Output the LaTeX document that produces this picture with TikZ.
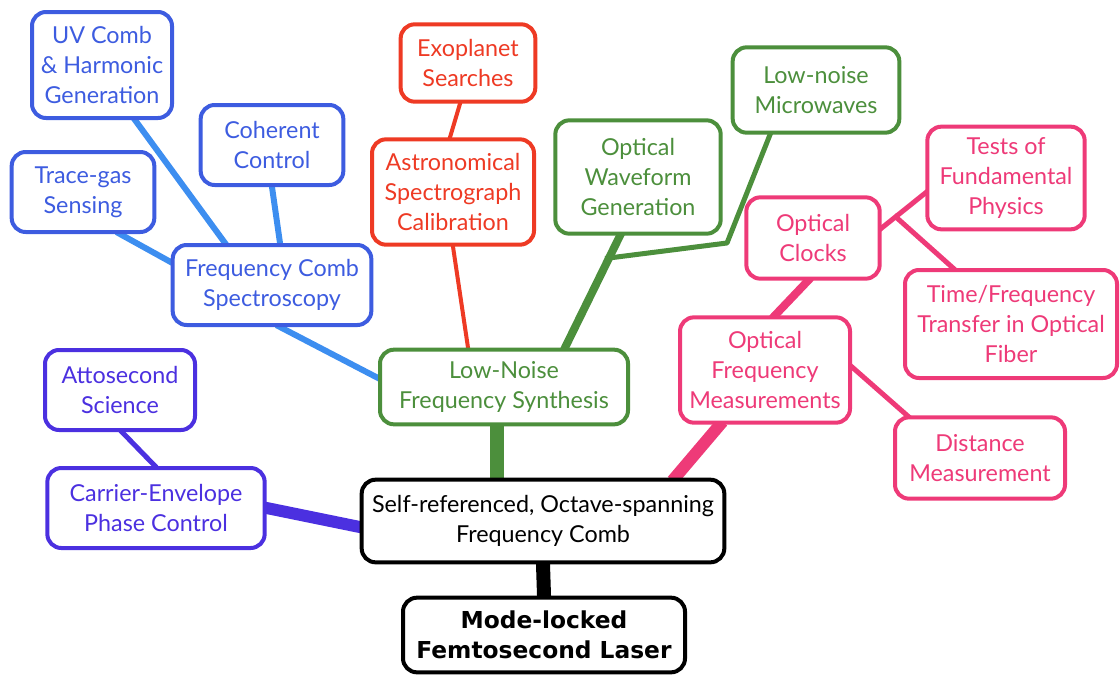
\documentclass[tikz,border=0pt]{standalone}
\usepackage{fontspec}
\setmainfont{Lato}
\newfontfamily\laserfamily{DejaVu Sans}
\usepackage{tikz}
\usetikzlibrary{
  calc,
  backgrounds
}
\definecolor{boxblue}{HTML}{3D5CE0}
\definecolor{lineblue}{HTML}{3D8EF0}
\definecolor{astrored}{HTML}{EE3A24}
\definecolor{synthgreen}{HTML}{4C8F3C}
\definecolor{optpink}{HTML}{EE3A78}
\definecolor{cepurple}{HTML}{4B30E0}
\newcommand{\topicfont}{\fontsize{17.5}{22.5}\selectfont}

\begin{document}
\begin{tikzpicture}[
  x=0.75pt, y=-0.75pt,
  topic/.style={draw=#1, text=#1, line width=3pt, rounded corners=10.5pt, fill=white,
    align=center, font=\topicfont, inner sep=0pt},
  link/.style={draw=#1, line width=4.5pt, shorten <=-3pt, shorten >=-3pt},
]
  \useasboundingbox (0,0) rectangle (1120,675);

  % Spectroscopy branch
  \node[topic=boxblue, minimum width=105pt, minimum height=79.5pt] (uvcomb) at (102,65) {UV Comb\\\& Harmonic\\Generation};
  \node[topic=boxblue, minimum width=107pt, minimum height=60pt] (coherent) at (272,145) {Coherent\\Control};
  \node[topic=boxblue, minimum width=107pt, minimum height=60pt] (tracegas) at (83,192) {Trace-gas\\Sensing};
  \node[topic=boxblue, minimum width=149pt, minimum height=60pt] (fcs) at (272,285) {Frequency Comb\\Spectroscopy};

  % Astronomy branch
  \node[topic=astrored, minimum width=101pt, minimum height=58pt] (exoplanet) at (468,63) {Exoplanet\\Searches};
  \node[topic=astrored, minimum width=121.5pt, minimum height=79pt] (astro) at (453,192) {Astronomical\\Spectrograph\\Calibration};

  % Synthesis branch
  \node[topic=synthgreen, minimum width=124pt, minimum height=85pt] (waveform) at (638,177) {Optical\\Waveform\\Generation};
  \node[topic=synthgreen, minimum width=125pt, minimum height=64pt] (microwave) at (816,90) {Low-noise\\Microwaves};
  \node[topic=synthgreen, minimum width=186pt, minimum height=56pt] (synth) at (504,387) {Low-Noise\\Frequency Synthesis};
  \coordinate (wjoin) at (609,258);
  \coordinate (mwbend) at (727,243);

  % Optical measurement branch
  \node[topic=optpink, minimum width=100pt, minimum height=61pt] (clocks) at (813,238) {Optical\\Clocks};
  \node[topic=optpink, minimum width=118pt, minimum height=77pt] (tests) at (1006,178) {Tests of\\Fundamental\\Physics};
  \node[topic=optpink, minimum width=159pt, minimum height=81pt] (transfer) at (1011,324) {Time/Frequency\\Transfer in Optical\\Fiber};
  \node[topic=optpink, minimum width=127.5pt, minimum height=79pt] (ofm) at (765,370) {Optical\\Frequency\\Measurements};
  \node[topic=optpink, minimum width=127.5pt, minimum height=61pt] (distance) at (980,458) {Distance\\Measurement};
  \coordinate (cjoin) at (897,218);

  % CEP branch
  \node[topic=cepurple, minimum width=112.5pt, minimum height=60pt] (atto) at (120,390) {Attosecond\\Science};
  \node[topic=cepurple, minimum width=163pt, minimum height=60pt] (cep) at (156,508) {Carrier-Envelope\\Phase Control};

  % Trunk
  \node[topic=black, minimum width=272pt, minimum height=62pt] (comb) at (543,521) {Self-referenced, Octave-spanning\\Frequency Comb};
  \node[topic=black, minimum width=211.5pt, minimum height=56pt,
    font=\laserfamily\bfseries\fontsize{17.5}{22.5}\selectfont] (laser) at (544,635) {Mode-locked\\Femtosecond Laser};

  \begin{scope}[on background layer]
    \draw[link=lineblue] ($(uvcomb.south)+(33,0)$) -- ($(fcs.north)+(-47,0)$);
    \draw[link=lineblue] (coherent.south) -- ($(fcs.north)+(8,0)$);
    \draw[link=lineblue] ($(tracegas.south)+(37,0)$) -- ($(fcs.west)+(0,-23)$);
    \draw[link=lineblue] ($(fcs.south)+(8,0)$) -- ($(synth.west)+(0,-9)$);

    \draw[link=astrored, line width=3pt] ($(exoplanet.south)+(-8,0)$) -- ($(astro.north)+(-3,0)$);
    \draw[link=astrored, line width=3pt] (astro.south) -- ($(synth.north)+(-36,0)$);

    \draw[link=synthgreen, line width=6pt] ($(waveform.south)+(-18,0)$) -- ($(synth.north)+(61,0)$);
    \draw[link=synthgreen, line width=3.75pt, line join=round] (wjoin) -- (mwbend) -- ($(microwave.south)+(-46,0)$);
    \draw[link=synthgreen, line width=10pt] ($(synth.south)+(-7,0)$) -- ($(comb.north)+(-46,0)$);

    \draw[link=optpink, line width=9pt] ($(comb.north)+(132,0)$) -- ($(ofm.south)+(-45,0)$);
    \draw[link=optpink, line width=6pt] ($(ofm.north)+(10,0)$) -- ($(clocks.south)+(-5,0)$);
    \draw[link=optpink, line width=3.75pt] ($(clocks.east)+(0,-10)$) -- ($(tests.west)+(0,15)$);
    \draw[link=optpink, line width=3.75pt] (cjoin) -- ($(transfer.north)+(-58,0)$);
    \draw[link=optpink, line width=3.75pt] ($(ofm.east)+(0,-3)$) -- ($(distance.north)+(-73,0)$);

    \draw[link=cepurple, line width=3.75pt] ($(atto.south)+(2,0)$) -- ($(cep.north)+(-1,0)$);
    \draw[link=cepurple, line width=9pt] (cep.east) -- ($(comb.west)+(0,6)$);

    \draw[link=black, line width=10.5pt] (comb.south) -- (laser.north);
  \end{scope}
\end{tikzpicture}
\end{document}
